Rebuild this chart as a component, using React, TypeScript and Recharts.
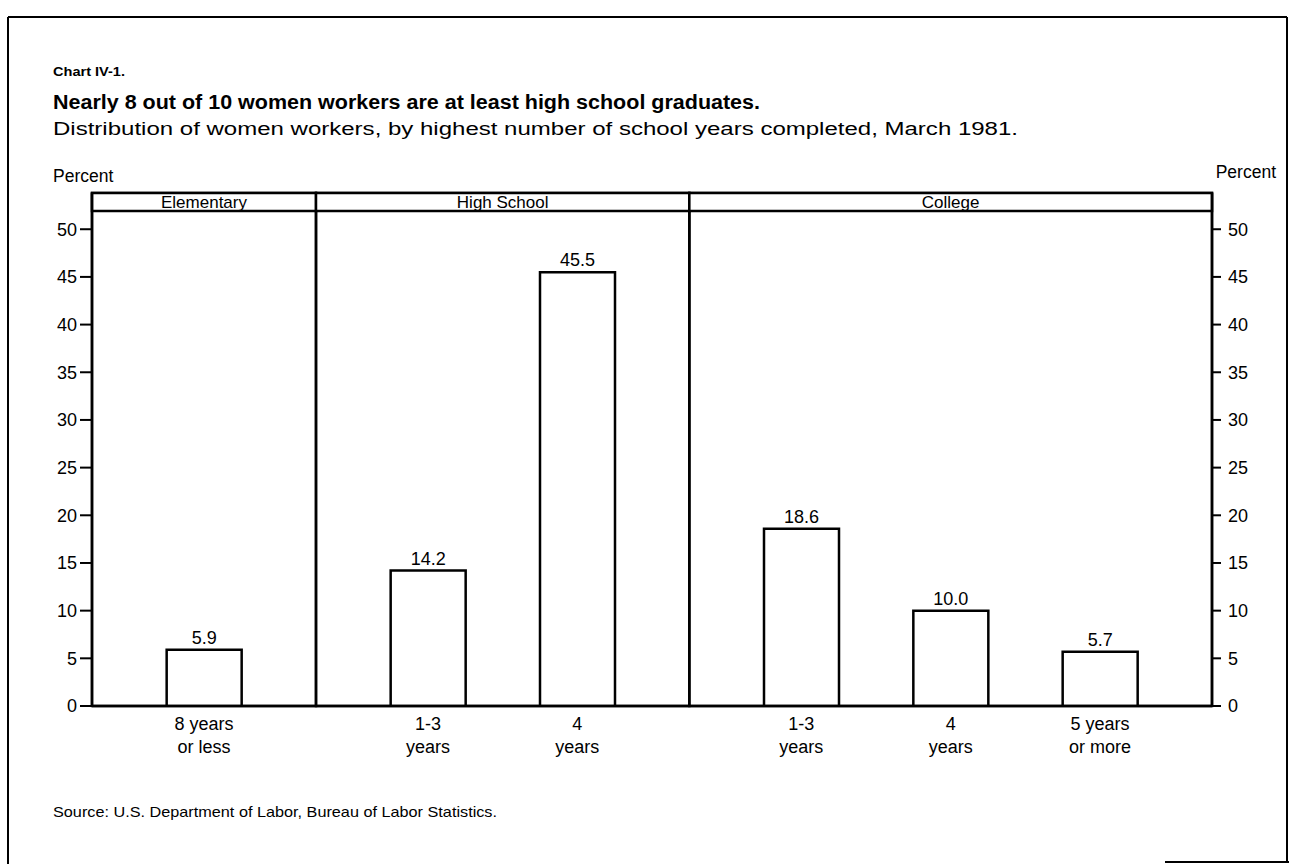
import React from "react";
import { ComposedChart, Bar, Line, XAxis, YAxis, ReferenceArea, LabelList } from "recharts";

const FONT = "'Liberation Sans', Arial, Helvetica, sans-serif";

const groups = ["Elementary", "High School", "College"];
const barGroup = [0, 1, 1, 2, 2, 2];
const barLabels = [
  ["8 years", "or less"],
  ["1-3", "years"],
  ["4", "years"],
  ["1-3", "years"],
  ["4", "years"],
  ["5 years", "or more"],
];
const values = [5.9, 14.2, 45.5, 18.6, 10.0, 5.7];
const yTicks = [0, 5, 10, 15, 20, 25, 30, 35, 40, 45, 50];

// each group: a blank slot, then bar + blank slot for every bar in it
type Slot = { key: string; value: number | null; label: string[] | null };
const slots: Slot[] = [];
const groupSpan: { first: string; last: string }[] = [];
groups.forEach((_, gi) => {
  const first = `g${gi}`;
  slots.push({ key: first, value: null, label: null });
  let last = first;
  values.forEach((v, i) => {
    if (barGroup[i] !== gi) return;
    slots.push({ key: `b${i}`, value: v, label: barLabels[i] });
    last = `b${i}-gap`;
    slots.push({ key: last, value: null, label: null });
  });
  groupSpan.push({ first, last });
});

const XTick = (props: any) => {
  const { x, y, payload } = props;
  const slot = slots.find((s) => s.key === payload.value);
  if (!slot || !slot.label) return null;
  return (
    <text x={x} y={y} textAnchor="middle" fontFamily={FONT} fontSize={18} fill="#000">
      <tspan x={x} dy={16}>{slot.label[0]}</tspan>
      <tspan x={x} dy={23}>{slot.label[1]}</tspan>
    </text>
  );
};

export default function App() {
  return (
    <div style={{ position: "absolute", left: 0, top: 0, width: 1289, height: 864, background: "#fff" }}>
      <svg width={1289} height={864} style={{ position: "absolute", left: 0, top: 0 }}>
        <line x1={8} y1={17} x2={1287} y2={17} stroke="#000" strokeWidth={2} />
        <line x1={8} y1={17} x2={8} y2={864} stroke="#000" strokeWidth={2} />
        <line x1={1287} y1={17} x2={1287} y2={862} stroke="#000" strokeWidth={2} />
        <line x1={1165} y1={862} x2={1289} y2={862} stroke="#000" strokeWidth={2} />
        <g fontFamily={FONT} fill="#000">
          <text x={53} y={76} fontSize={12} fontWeight="bold" textLength={72} lengthAdjust="spacingAndGlyphs">
            Chart IV-1.
          </text>
          <text x={53} y={109} fontSize={20} fontWeight="bold" textLength={707} lengthAdjust="spacingAndGlyphs">
            Nearly 8 out of 10 women workers are at least high school graduates.
          </text>
          <text x={53} y={135} fontSize={17.5} textLength={965} lengthAdjust="spacingAndGlyphs">
            Distribution of women workers, by highest number of school years completed, March 1981.
          </text>
          <text x={53} y={182} fontSize={17.5}>Percent</text>
          <text x={1276} y={178} fontSize={17.5} textAnchor="end">Percent</text>
          <text x={53} y={817} fontSize={15} textLength={444} lengthAdjust="spacingAndGlyphs">
            Source: U.S. Department of Labor, Bureau of Labor Statistics.
          </text>
        </g>
      </svg>
      <div style={{ position: "absolute", left: 0, top: 0 }}>
        <ComposedChart
          width={1289}
          height={864}
          data={slots}
          margin={{ top: 193, right: 7, left: 32, bottom: 98 }}
          barCategoryGap={0}
          style={{ fontFamily: FONT }}
        >
          <XAxis
            dataKey="key"
            interval={0}
            tick={<XTick />}
            tickLine={false}
            axisLine={{ stroke: "#000", strokeWidth: 2.5 }}
            height={60}
          />
          <YAxis
            yAxisId="left"
            domain={[0, 53.8]}
            allowDataOverflow
            ticks={yTicks}
            width={60}
            tick={{ fill: "#000", fontSize: 18, fontFamily: FONT }}
            tickLine={{ stroke: "#000", strokeWidth: 2 }}
            tickSize={12}
            tickMargin={3}
            axisLine={{ stroke: "#000", strokeWidth: 2.5 }}
          />
          <YAxis
            yAxisId="right"
            orientation="right"
            domain={[0, 53.8]}
            allowDataOverflow
            ticks={yTicks}
            width={70}
            tick={{ fill: "#000", fontSize: 18, fontFamily: FONT }}
            tickLine={{ stroke: "#000", strokeWidth: 2 }}
            tickSize={9}
            tickMargin={7}
            axisLine={{ stroke: "#000", strokeWidth: 2.5 }}
          />
          {groupSpan.map((g, gi) => (
            <ReferenceArea
              key={`box${gi}`}
              yAxisId="left"
              x1={g.first}
              x2={g.last}
              y1={0}
              y2={53.8}
              ifOverflow="visible"
              fill="none"
              fillOpacity={0}
              stroke="#000"
              strokeWidth={2.5}
            />
          ))}
          {groupSpan.map((g, gi) => (
            <ReferenceArea
              key={`head${gi}`}
              yAxisId="left"
              x1={g.first}
              x2={g.last}
              y1={51.9}
              y2={53.8}
              ifOverflow="visible"
              fill="#fff"
              fillOpacity={1}
              stroke="#000"
              strokeWidth={2.5}
              label={{ value: groups[gi], position: "center", fill: "#000", fontSize: 17, fontFamily: FONT }}
            />
          ))}
          <Bar
            yAxisId="left"
            dataKey="value"
            fill="#fff"
            stroke="#000"
            strokeWidth={2.5}
            isAnimationActive={false}
          >
            <LabelList
              dataKey="value"
              position="top"
              offset={6}
              fill="#000"
              fontSize={18}
              fontFamily={FONT}
              formatter={(v: any) => (v == null ? "" : Number(v).toFixed(1))}
            />
          </Bar>
          <Line
            yAxisId="right"
            dataKey="value"
            stroke="none"
            dot={false}
            activeDot={false}
            legendType="none"
            isAnimationActive={false}
          />
        </ComposedChart>
      </div>
    </div>
  );
}
